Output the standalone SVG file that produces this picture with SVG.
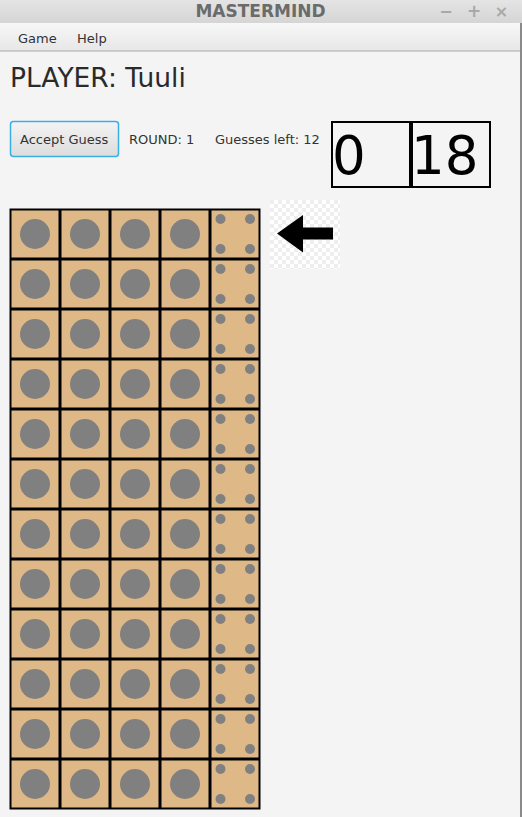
<svg xmlns="http://www.w3.org/2000/svg" xmlns:xlink="http://www.w3.org/1999/xlink" width="522" height="817" viewBox="0 0 522 817">
<style>
text{font-family:"DejaVu Sans","Liberation Sans",sans-serif;}
.cell{fill:#deb887;}
.peg{fill:#808080;}
.ui{font-size:13px;fill:#333333;}
.score{font-size:53px;fill:#000000;}
.box{fill:none;stroke:#000000;stroke-width:2;}
</style>
<defs>
<linearGradient id="gTitle" x1="0" y1="0" x2="0" y2="1"><stop offset="0" stop-color="#e4e4e4"/><stop offset="1" stop-color="#d5d5d5"/></linearGradient>
<linearGradient id="gMenu" x1="0" y1="0" x2="0" y2="1"><stop offset="0" stop-color="#f7f7f7"/><stop offset="1" stop-color="#e7e7e7"/></linearGradient>
<linearGradient id="gBtn" x1="0" y1="0" x2="0" y2="1"><stop offset="0" stop-color="#f4f4f4"/><stop offset="1" stop-color="#dcdcdc"/></linearGradient>
<pattern id="checker" x="270" y="200" width="8" height="8" patternUnits="userSpaceOnUse">
<rect width="8" height="8" fill="#ffffff"/><rect width="4" height="4" fill="#eeeeee"/><rect x="4" y="4" width="4" height="4" fill="#eeeeee"/>
</pattern>
<g id="pegCell"><rect x="1.5" y="1.5" width="47" height="47" class="cell"/><circle cx="25" cy="25" r="15" class="peg"/></g>
<g id="hintCell"><rect x="1.5" y="1.5" width="47" height="47" class="cell"/><circle cx="10.5" cy="10" r="5" class="peg"/><circle cx="40" cy="10" r="5" class="peg"/><circle cx="10.5" cy="40" r="5" class="peg"/><circle cx="40" cy="40" r="5" class="peg"/></g>
</defs>
<rect x="0" y="0" width="522" height="817" fill="#f4f4f4"/>
<g id="titlebar">
<rect x="0" y="0" width="522" height="23" fill="url(#gTitle)"/>
<text x="260.5" y="16.5" text-anchor="middle" font-size="17" font-weight="bold" fill="#6b6b6b">MASTERMIND</text>
<text x="446" y="17" text-anchor="middle" font-size="16" font-weight="bold" fill="#a8a8a8">−</text>
<text x="474" y="17" text-anchor="middle" font-size="17" font-weight="bold" fill="#a8a8a8">+</text>
<text x="501.5" y="17" text-anchor="middle" font-size="16" font-weight="bold" fill="#a8a8a8">×</text>
</g>
<g id="menubar">
<rect x="0" y="23" width="522" height="28" fill="url(#gMenu)"/>
<line x1="0" y1="51" x2="522" y2="51" stroke="#aaaaaa" stroke-width="1"/>
<text x="18" y="43" class="ui" fill="#222">Game</text>
<text x="77" y="43" class="ui">Help</text>
</g>
<rect x="520" y="23" width="2" height="794" fill="#8a8a8a"/>
<g id="player"><text x="10" y="87" font-size="26.5" fill="#2a2a2a">PLAYER: Tuuli</text></g>
<g id="acceptGuess">
<rect x="10.5" y="121.5" width="108" height="35" rx="3" fill="url(#gBtn)" stroke="#3ab0e2" stroke-width="1.5"/>
<text x="20" y="144" class="ui">Accept Guess</text>
</g>
<g id="round"><text x="129" y="144" class="ui">ROUND: 1</text></g>
<g id="guessesLeft"><text x="215" y="144" class="ui">Guesses left: 12</text></g>
<g id="scoreBoxes">
<rect x="332" y="122" width="78" height="65" class="box"/>
<rect x="412" y="122" width="78" height="65" class="box"/>
<text x="332" y="174" class="score">0</text>
<text x="411" y="174" class="score">18</text>
</g>
<g id="pointer">
<rect x="270" y="200" width="70" height="69" fill="url(#checker)"/>
<polygon points="277,233.5 303,215 303,227.5 333,227.5 333,239.5 303,239.5 303,252.5" fill="#000000"/>
</g>
<g id="board">
<rect x="9.5" y="208.5" width="251" height="601" fill="#000000"/>
<g id="row1" transform="translate(10,209)"><use xlink:href="#pegCell"/><use xlink:href="#pegCell" x="50"/><use xlink:href="#pegCell" x="100"/><use xlink:href="#pegCell" x="150"/><use xlink:href="#hintCell" x="200"/></g>
<g id="row2" transform="translate(10,259)"><use xlink:href="#pegCell"/><use xlink:href="#pegCell" x="50"/><use xlink:href="#pegCell" x="100"/><use xlink:href="#pegCell" x="150"/><use xlink:href="#hintCell" x="200"/></g>
<g id="row3" transform="translate(10,309)"><use xlink:href="#pegCell"/><use xlink:href="#pegCell" x="50"/><use xlink:href="#pegCell" x="100"/><use xlink:href="#pegCell" x="150"/><use xlink:href="#hintCell" x="200"/></g>
<g id="row4" transform="translate(10,359)"><use xlink:href="#pegCell"/><use xlink:href="#pegCell" x="50"/><use xlink:href="#pegCell" x="100"/><use xlink:href="#pegCell" x="150"/><use xlink:href="#hintCell" x="200"/></g>
<g id="row5" transform="translate(10,409)"><use xlink:href="#pegCell"/><use xlink:href="#pegCell" x="50"/><use xlink:href="#pegCell" x="100"/><use xlink:href="#pegCell" x="150"/><use xlink:href="#hintCell" x="200"/></g>
<g id="row6" transform="translate(10,459)"><use xlink:href="#pegCell"/><use xlink:href="#pegCell" x="50"/><use xlink:href="#pegCell" x="100"/><use xlink:href="#pegCell" x="150"/><use xlink:href="#hintCell" x="200"/></g>
<g id="row7" transform="translate(10,509)"><use xlink:href="#pegCell"/><use xlink:href="#pegCell" x="50"/><use xlink:href="#pegCell" x="100"/><use xlink:href="#pegCell" x="150"/><use xlink:href="#hintCell" x="200"/></g>
<g id="row8" transform="translate(10,559)"><use xlink:href="#pegCell"/><use xlink:href="#pegCell" x="50"/><use xlink:href="#pegCell" x="100"/><use xlink:href="#pegCell" x="150"/><use xlink:href="#hintCell" x="200"/></g>
<g id="row9" transform="translate(10,609)"><use xlink:href="#pegCell"/><use xlink:href="#pegCell" x="50"/><use xlink:href="#pegCell" x="100"/><use xlink:href="#pegCell" x="150"/><use xlink:href="#hintCell" x="200"/></g>
<g id="row10" transform="translate(10,659)"><use xlink:href="#pegCell"/><use xlink:href="#pegCell" x="50"/><use xlink:href="#pegCell" x="100"/><use xlink:href="#pegCell" x="150"/><use xlink:href="#hintCell" x="200"/></g>
<g id="row11" transform="translate(10,709)"><use xlink:href="#pegCell"/><use xlink:href="#pegCell" x="50"/><use xlink:href="#pegCell" x="100"/><use xlink:href="#pegCell" x="150"/><use xlink:href="#hintCell" x="200"/></g>
<g id="row12" transform="translate(10,759)"><use xlink:href="#pegCell"/><use xlink:href="#pegCell" x="50"/><use xlink:href="#pegCell" x="100"/><use xlink:href="#pegCell" x="150"/><use xlink:href="#hintCell" x="200"/></g>
</g>
<g id="connectors"></g>
</svg>
